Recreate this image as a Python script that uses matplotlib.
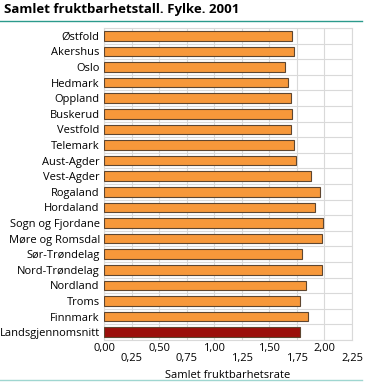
import matplotlib.pyplot as plt
import numpy as np

plt.rcParams['font.family'] = ['Open Sans', 'DejaVu Sans']

fylker = ['Østfold', 'Akershus', 'Oslo', 'Hedmark', 'Oppland', 'Buskerud',
          'Vestfold', 'Telemark', 'Aust-Agder', 'Vest-Agder', 'Rogaland',
          'Hordaland', 'Sogn og Fjordane', 'Møre og Romsdal', 'Sør-Trøndelag',
          'Nord-Trøndelag', 'Nordland', 'Troms', 'Finnmark', 'Landsgjennomsnitt']
rate = [1.71, 1.72, 1.64, 1.67, 1.70, 1.71, 1.70, 1.72, 1.74, 1.88, 1.96,
        1.91, 1.99, 1.98, 1.80, 1.98, 1.83, 1.78, 1.85, 1.78]
xticks = [0, 0.25, 0.5, 0.75, 1.0, 1.25, 1.5, 1.75, 2.0, 2.25]
xticklabels = ['0,00', '0,25', '0,50', '0,75', '1,00', '1,25', '1,50', '1,75', '2,00', '2,25']

fig = plt.figure(figsize=(3.65, 3.82), dpi=100)
ax = fig.add_axes([104/365, 1 - 340/382, 248/365, 312/382])

y = np.arange(len(fylker))
colors = ['#f7983a'] * (len(fylker) - 1) + ['#9b0f0a']
ax.barh(y, rate, height=0.62, color=colors, edgecolor='#5e4630', linewidth=0.8, zorder=3)

ax.set_ylim(len(fylker) - 0.5, -0.5)
ax.set_xlim(0, 2.25)
ax.set_yticks(y)
ax.set_yticklabels(fylker, fontsize=8)
ax.set_yticks(np.arange(-0.5, len(fylker), 1), minor=True)
ax.set_xticks(xticks)
ax.set_xticklabels(xticklabels, fontsize=8)
ax.tick_params(axis='both', which='both', length=0)
ax.tick_params(axis='y', pad=3)
# alternate x tick labels up/down
for i, t in enumerate(ax.xaxis.get_major_ticks()):
    t.set_pad(2 if i % 2 == 0 else 9)

ax.grid(axis='x', which='major', color='#d9d9d9', linewidth=0.8, zorder=0)
ax.grid(axis='y', which='minor', color='#d9d9d9', linewidth=0.8, zorder=0)
for s in ax.spines.values():
    s.set_color('#d9d9d9')
    s.set_linewidth(0.8)

ax.set_xlabel('Samlet fruktbarhetsrate', fontsize=8, labelpad=5)

fig.text(4/365, 1 - 10/382, 'Samlet fruktbarhetstall. Fylke. 2001', fontsize=9.5,
         fontweight='bold', va='center', ha='left')
fig.add_artist(plt.Line2D([0, 362/365], [1 - 21/382, 1 - 21/382], color='#2b9a8c', linewidth=1))
fig.add_artist(plt.Line2D([0, 362/365], [1 - 380/382, 1 - 380/382], color='#9fd6d0', linewidth=1))

fig.savefig('out.png', dpi=100)
